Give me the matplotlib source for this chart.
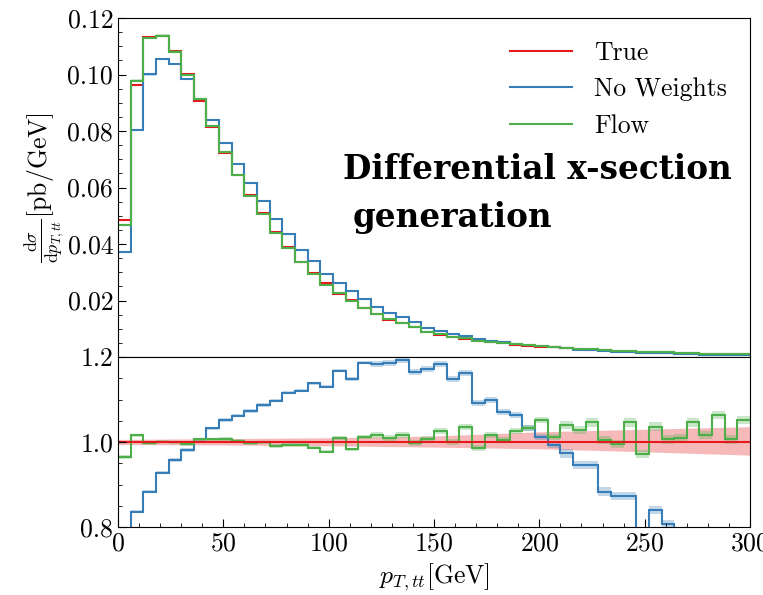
import numpy as np
import matplotlib
matplotlib.use('Agg')
import matplotlib.pyplot as plt

# binning: 50 bins of 6 GeV
edges = np.linspace(0, 300, 51)

# true distribution [pb/GeV]
true_vals = [0.0485, 0.0963, 0.1133, 0.1136, 0.1082, 0.1002, 0.0907, 0.0813, 0.0721, 0.0644,
             0.0573, 0.0508, 0.0444, 0.0389, 0.0337, 0.0298, 0.0261, 0.0224, 0.0202, 0.0172,
             0.0151, 0.0132, 0.0120, 0.0105, 0.0087, 0.0078, 0.0070, 0.0064, 0.0058, 0.0053,
             0.0048, 0.0044, 0.0040, 0.0037, 0.0034, 0.0031, 0.0028, 0.0026, 0.0024, 0.0022,
             0.0020, 0.0018, 0.0017, 0.0016, 0.0014, 0.0013, 0.0012, 0.0011, 0.0010, 0.0010]

# ratios to truth
noweight_ratio = [0.77, 0.836, 0.883, 0.928, 0.958, 0.981, 1.006, 1.032, 1.052, 1.062,
                  1.073, 1.087, 1.097, 1.116, 1.121, 1.138, 1.130, 1.168, 1.148, 1.187,
                  1.183, 1.185, 1.194, 1.165, 1.171, 1.184, 1.148, 1.162, 1.091, 1.099,
                  1.071, 1.064, 1.032, 1.011, 0.993, 0.973, 0.946, 0.946, 0.883, 0.873,
                  0.873, 0.78, 0.840, 0.807, 0.76, 0.74, 0.72, 0.70, 0.68, 0.66]
flow_ratio = [0.965, 1.016, 0.997, 1.001, 0.999, 0.995, 1.006, 1.006, 1.007, 1.003,
              0.997, 0.999, 0.991, 0.993, 0.993, 0.987, 0.977, 1.009, 0.983, 1.012,
              1.016, 1.010, 1.016, 0.997, 1.006, 1.025, 1.001, 1.036, 0.985, 1.016,
              1.005, 1.027, 1.032, 1.052, 1.011, 1.040, 1.028, 1.046, 1.005, 0.995,
              1.046, 0.972, 1.036, 1.006, 1.009, 1.046, 1.016, 1.064, 1.006, 1.052]

# half-width of the shaded bands on the ratios
ratio_err = [0.004] * 20 + [0.007] * 15 + [0.010] * 15

# truth uncertainty band (ratio panel)
band_x = [0, 50, 100, 150, 200, 250, 300]
band_hi = [1.006, 1.008, 1.010, 1.014, 1.024, 1.030, 1.036]
band_lo = [0.994, 0.993, 0.991, 0.988, 0.984, 0.977, 0.969]

c_true = '#e41a1c'
c_nw = '#377eb8'
c_flow = '#4daf4a'

plt.rcParams['font.family'] = 'cmr10'
plt.rcParams['mathtext.fontset'] = 'cm'
plt.rcParams['axes.formatter.use_mathtext'] = True
plt.rcParams['font.size'] = 18.5

true_vals = np.array(true_vals)
nw_r = np.array(noweight_ratio)
fl_r = np.array(flow_ratio)
err = np.array(ratio_err)

fig = plt.figure(figsize=(7.63, 5.95), dpi=100)
ax1 = fig.add_axes([118 / 763, 1 - 357 / 595, 632 / 763, 339 / 595])
ax2 = fig.add_axes([118 / 763, 1 - 527 / 595, 632 / 763, 170 / 595], sharex=ax1)

# top panel
ax1.stairs(true_vals, edges, baseline=None, color=c_true, lw=1.5, label='True')
for r, c, lab in [(nw_r, c_nw, 'No Weights'), (fl_r, c_flow, 'Flow')]:
    v = true_vals * r
    ax1.stairs(v * (1 + err), edges, baseline=v * (1 - err), fill=True, color=c, alpha=0.25, lw=0)
    ax1.stairs(v, edges, baseline=None, color=c, lw=1.5, label=lab)

ax1.set_ylim(0, 0.12)
ax1.set_yticks([0.02, 0.04, 0.06, 0.08, 0.10, 0.12])
ax1.set_yticks(np.arange(0, 0.1201, 0.005), minor=True)
ax1.yaxis.set_major_formatter(matplotlib.ticker.FormatStrFormatter('%.2f'))
ax1.set_ylabel(r'$\frac{\mathrm{d}\sigma}{\mathrm{d}p_{T,tt}}$[pb/GeV]')
ax1.yaxis.set_label_coords(-0.08, 0.5)
ax1.tick_params(axis='x', which='both', bottom=False, labelbottom=False)
ax1.legend(loc='upper right', frameon=False, handlelength=2.4, handletextpad=0.85,
           labelspacing=0.5, bbox_to_anchor=(1.0, 1.0))

# ratio panel
ax2.fill_between(band_x, band_lo, band_hi, color=c_true, alpha=0.3, lw=0)
for r, c in [(nw_r, c_nw), (fl_r, c_flow)]:
    ax2.stairs(r + err, edges, baseline=r - err, fill=True, color=c, alpha=0.3, lw=0)
    ax2.stairs(r, edges, baseline=None, color=c, lw=1.5)
ax2.stairs(np.ones(50), edges, baseline=None, color=c_true, lw=1.5)

ax2.set_xlim(0, 300)
ax2.set_ylim(0.8, 1.2)
ax2.set_yticks([0.8, 1.0, 1.2])
ax2.set_yticks(np.arange(0.8, 1.201, 0.05), minor=True)
ax2.yaxis.set_major_formatter(matplotlib.ticker.FormatStrFormatter('%.1f'))
ax2.set_xticks([0, 50, 100, 150, 200, 250, 300])
ax2.set_xticks(np.arange(0, 301, 10), minor=True)
ax2.set_xlabel(r'$p_{T,tt}$[GeV]', labelpad=4)

for ax in (ax1, ax2):
    ax.tick_params(which='both', direction='in', top=False, right=False)
    ax.tick_params(which='major', length=6)
    ax.tick_params(which='minor', length=3)

fig.text(343 / 763, 1 - 179 / 595, 'Differential x-section', fontsize=23.5,
         family='DejaVu Serif', weight='bold', ha='left', va='baseline')
fig.text(353 / 763, 1 - 227 / 595, 'generation', fontsize=23.5,
         family='DejaVu Serif', weight='bold', ha='left', va='baseline')

fig.savefig('out.png', dpi=100)
